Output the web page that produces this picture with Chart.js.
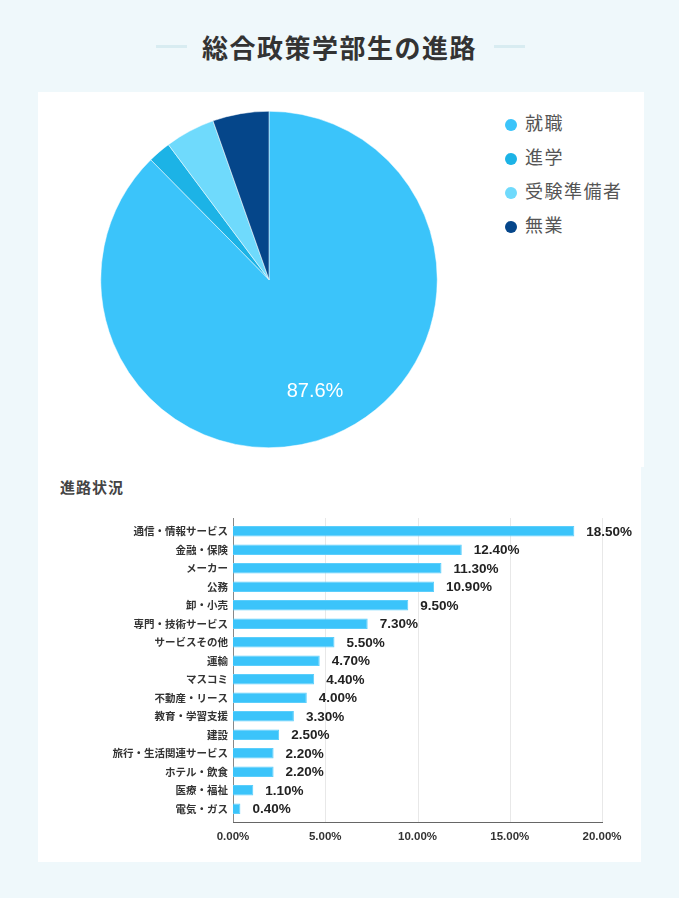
<!DOCTYPE html>
<html lang="ja">
<head>
<meta charset="utf-8">
<title>総合政策学部生の進路</title>
<script src="https://cdn.jsdelivr.net/npm/chart.js@4/dist/chart.umd.min.js"></script>
<style>
    body {
        margin: 0;
        width: 679px;
        height: 898px;
        background: #eff8fb;
        font-family: "Noto Sans CJK JP", "Noto Sans", sans-serif;
        position: relative;
        overflow: hidden;
    }
    .title {
        position: absolute;
        left: 0;
        width: 679px;
        top: 28px;
        text-align: center;
        font-size: 26px;
        font-weight: bold;
        letter-spacing: 1.5px;
        color: #333;
        line-height: 38px;
    }
    .deco {
        position: absolute;
        top: 45px;
        width: 31px;
        height: 3px;
        background: #d8ecf1;
    }
    .card {
        position: absolute;
        background: #fff;
    }
    .legend {
        position: absolute;
        left: 505px;
        top: 110px;
        margin: 0;
        padding: 0;
        list-style: none;
    }
    .legend li {
        height: 34px;
        line-height: 24px;
        font-size: 18px;
        letter-spacing: 1.5px;
        color: #555;
        white-space: nowrap;
    }
    .legend .dot {
        display: inline-block;
        width: 12px;
        height: 12px;
        border-radius: 50%;
        margin-right: 8px;
        vertical-align: -1px;
    }
    .sub-title {
        position: absolute;
        left: 60px;
        top: 476px;
        font-size: 15px;
        font-weight: bold;
        letter-spacing: 1px;
        color: #444;
        line-height: 22px;
    }
</style>
</head>
<body>
<div class="deco" style="left:156px"></div>
<div class="deco" style="left:494px"></div>
<div class="title">総合政策学部生の進路</div>

<div class="card" style="left:38px; top:92px; width:606px; height:375px;"></div>
<div class="card" style="left:38px; top:467px; width:603px; height:395px;"></div>

<canvas id="pieChart" width="376" height="375" style="position:absolute; left:81px; top:92px;"></canvas>
<ul class="legend" id="pieLegend"></ul>

<div class="sub-title">進路状況</div>
<canvas id="barChart" width="603" height="345" style="position:absolute; left:38px; top:505px;"></canvas>

<script>
// Pie data
const pieLabels = ['就職', '進学', '受験準備者', '無業'];
const pieValues = [87.6, 2.2, 4.8, 5.4];
const pieColors = ['#3bc4fa', '#1cb3e6', '#6fdafc', '#05468a'];

// Bar data
const barLabels = [
    '通信・情報サービス', '金融・保険', 'メーカー', '公務', '卸・小売',
    '専門・技術サービス', 'サービスその他', '運輸', 'マスコミ', '不動産・リース',
    '教育・学習支援', '建設', '旅行・生活関連サービス', 'ホテル・飲食', '医療・福祉', '電気・ガス'
];
const barValues = [18.5, 12.4, 11.3, 10.9, 9.5, 7.3, 5.5, 4.7, 4.4, 4.0, 3.3, 2.5, 2.2, 2.2, 1.1, 0.4];
const xTicks = [0, 5, 10, 15, 20];

const numFont = '"Liberation Sans", Arial, sans-serif';
const jpFont = '"Noto Sans CJK JP", sans-serif';

// Build legend for the pie
const legendEl = document.getElementById('pieLegend');
pieLabels.forEach((label, i) => {
    const li = document.createElement('li');
    li.innerHTML = '<span class="dot" style="background:' + pieColors[i] + '"></span>' + label;
    legendEl.appendChild(li);
});

// Percentage label inside the big slice
const pieLabelPlugin = {
    id: 'pieLabel',
    afterDatasetsDraw(chart) {
        const ctx = chart.ctx;
        const meta = chart.getDatasetMeta(0);
        meta.data.forEach((arc, i) => {
            const v = chart.data.datasets[0].data[i];
            if (v < 10) return;
            const mid = (arc.startAngle + arc.endAngle) / 2;
            const r = arc.outerRadius * 0.72;
            ctx.save();
            ctx.fillStyle = '#fff';
            ctx.font = '20px ' + numFont;
            ctx.textAlign = 'center';
            ctx.textBaseline = 'middle';
            ctx.fillText(v.toFixed(1) + '%', arc.x + Math.cos(mid) * r, arc.y + Math.sin(mid) * r);
            ctx.restore();
        });
    }
};

new Chart(document.getElementById('pieChart'), {
    type: 'pie',
    data: {
        labels: pieLabels,
        datasets: [{
            data: pieValues,
            backgroundColor: pieColors,
            borderColor: '#ffffff',
            borderWidth: 0.5
        }]
    },
    options: {
        responsive: false,
        animation: false,
        layout: { padding: 19 },
        plugins: {
            legend: { display: false },
            tooltip: { enabled: false }
        }
    },
    plugins: [pieLabelPlugin]
});

// Grid and axis lines reach a little past the bar area
const AXIS_EXT = 4;
const barGridPlugin = {
    id: 'barGrid',
    beforeDatasetsDraw(chart) {
        const ctx = chart.ctx;
        const area = chart.chartArea;
        const xs = chart.scales.x;
        const top = area.top - AXIS_EXT;
        const bottom = area.bottom + AXIS_EXT;
        ctx.save();
        ctx.lineWidth = 1;
        ctx.strokeStyle = '#e8e8e8';
        xTicks.slice(1).forEach(v => {
            const x = Math.round(xs.getPixelForValue(v)) + 0.5;
            ctx.beginPath();
            ctx.moveTo(x, top);
            ctx.lineTo(x, bottom);
            ctx.stroke();
        });
        const x0 = Math.round(xs.getPixelForValue(0)) + 0.5;
        ctx.strokeStyle = '#888';
        ctx.beginPath();
        ctx.moveTo(x0, top);
        ctx.lineTo(x0, bottom);
        ctx.stroke();
        ctx.strokeStyle = '#666';
        ctx.beginPath();
        ctx.moveTo(x0 - 0.5, Math.round(bottom) + 0.5);
        ctx.lineTo(Math.round(xs.getPixelForValue(20)) + 1, Math.round(bottom) + 0.5);
        ctx.stroke();
        ctx.restore();
    }
};

// Value labels at the end of each bar
const barValuePlugin = {
    id: 'barValue',
    afterDatasetsDraw(chart) {
        const ctx = chart.ctx;
        const meta = chart.getDatasetMeta(0);
        ctx.save();
        ctx.fillStyle = '#222';
        ctx.font = 'bold 13.5px ' + numFont;
        ctx.textAlign = 'left';
        ctx.textBaseline = 'middle';
        meta.data.forEach((bar, i) => {
            ctx.fillText(barValues[i].toFixed(2) + '%', bar.x + 12, bar.y + 1);
        });
        ctx.restore();
    }
};

new Chart(document.getElementById('barChart'), {
    type: 'bar',
    data: {
        labels: barLabels,
        datasets: [{
            data: barValues,
            backgroundColor: '#3bc4fa',
            borderColor: '#5ccefb',
            borderWidth: 1,
            barPercentage: 0.9,
            categoryPercentage: 0.64
        }]
    },
    options: {
        indexAxis: 'y',
        responsive: false,
        animation: false,
        layout: { padding: { top: 17, right: 39, left: 0, bottom: 0 } },
        plugins: {
            legend: { display: false },
            tooltip: { enabled: false }
        },
        scales: {
            x: {
                min: 0,
                max: 20,
                afterBuildTicks: (scale) => {
                    scale.ticks = xTicks.map(v => ({ value: v }));
                },
                afterFit: (scale) => { scale.height = 32; },
                grid: { display: false, drawTicks: false },
                border: { display: false },
                ticks: {
                    padding: 12,
                    color: '#333',
                    font: { family: numFont, size: 11.5, weight: 'bold' },
                    callback: (v) => v.toFixed(2) + '%'
                }
            },
            y: {
                afterFit: (scale) => { scale.width = 195; },
                grid: { display: false, drawTicks: false },
                border: { display: false },
                ticks: {
                    padding: 5,
                    color: '#333',
                    font: { family: jpFont, size: 10.5, weight: 'bold' }
                }
            }
        }
    },
    plugins: [barGridPlugin, barValuePlugin]
});
</script>
</body>
</html>
